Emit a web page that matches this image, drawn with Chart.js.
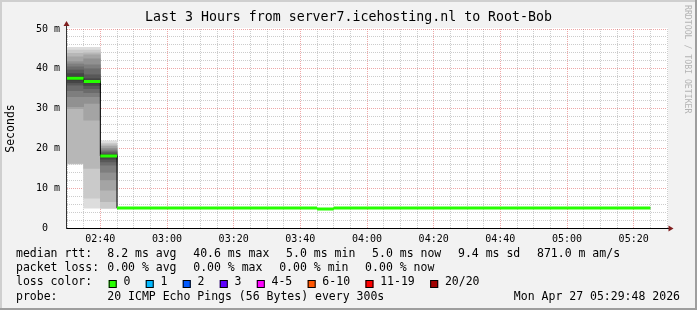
<!DOCTYPE html>
<html>
<head>
<meta charset="utf-8">
<title>Last 3 Hours from server7.icehosting.nl to Root-Bob</title>
<script src="https://cdn.jsdelivr.net/npm/chart.js@4.4.1/dist/chart.umd.min.js"></script>
<style>
  html, body { margin: 0; padding: 0; background: #f2f2f2; }
  #chart-box { width: 697px; height: 310px; }
</style>
</head>
<body>
<div id="chart-box"><canvas id="ping-chart" width="697" height="310"></canvas></div>
<script>
// start of each 5 minute step, in minutes after 02:30
const stepStarts = [0, 5, 10, 15, 20, 25, 30, 35, 40, 45, 50, 55, 60, 65, 70, 75, 80, 85,
  90, 95, 100, 105, 110, 115, 120, 125, 130, 135, 140, 145, 150, 155, 160, 165, 170];
const stepMinutes = 5;

// median rtt per step (ms)
const medianRtt = [37.6, 36.8, 18.1, 5.0, 5.0, 5.0, 5.0, 5.0, 5.0, 5.0, 5.0, 5.0, 5.0, 5.0, 5.0,
  4.8, 5.0, 5.0, 5.0, 5.0, 5.0, 5.0, 5.0, 5.0, 5.0, 5.0, 5.0, 5.0, 5.0, 5.0, 5.0, 5.0, 5.0, 5.0, 5.0];

// sorted 20 pings (ms) of the steps that show smoke
const smokePings = [
  [16.1, 16.1, 16.2, 30.0, 30.5, 33.0, 34.5, 35.9, 36.5, 37.2, 38.0, 38.8, 39.7, 40.5, 41.2, 41.8, 43.0, 43.9, 44.7, 45.4],
  [5.0, 7.5, 15.0, 27.1, 31.3, 33.0, 34.0, 35.0, 35.8, 36.5, 37.1, 37.5, 38.5, 40.0, 41.0, 42.5, 43.5, 44.0, 44.7, 45.4],
  [4.9, 5.0, 6.6, 9.5, 12.1, 14.0, 15.8, 16.6, 17.3, 17.9, 18.3, 18.5, 18.9, 19.2, 19.6, 20.0, 20.5, 20.9, 21.3, 21.9]
];

// axis labels
const xTickLabels = ['02:40', '03:00', '03:20', '03:40', '04:00', '04:20', '04:40', '05:00', '05:20'];
const yTickLabels = ['0', '10 m', '20 m', '30 m', '40 m', '50 m'];

// legend texts
const medianItems = ['8.2 ms avg', '40.6 ms max', '5.0 ms min', '5.0 ms now', '9.4 ms sd', '871.0 m am/s'];
const lossItems = ['0.00 % avg', '0.00 % max', '0.00 % min', '0.00 % now'];
const lossLabels = ['0', '1', '2', '3', '4-5', '6-10', '11-19', '20/20'];
const lossColors = ['#26ff00', '#00b8ff', '#0059ff', '#5e00ff', '#ff00ff', '#ff5500', '#ff0000', '#a10000'];
const probeText = '20 ICMP Echo Pings (56 Bytes) every 300s';
const stampText = 'Mon Apr 27 05:29:48 2026';

const MONO = '"DejaVu Sans Mono", monospace';
const GRID = 'rgba(143,143,143,0.45)';
const MGRID = 'rgba(222,79,79,0.5)';

// smoke bands: outer pair lightest, inner pair darkest
const datasets = [];
const half = 10;
for (let b = 1; b <= half; b++) {
  const g = Math.floor(190 / half * (half - b)) + 50;
  datasets.push({
    type: 'bar',
    data: smokePings.map((p, i) => ({ x: stepStarts[i] + stepMinutes / 2, y: [p[b - 1], p[19 - (b - 1)]] })),
    backgroundColor: 'rgb(' + g + ',' + g + ',' + g + ')',
    borderWidth: 0,
    barPercentage: 1,
    categoryPercentage: 1,
    grouped: false,
    order: 30 - b
  });
}

// thin black step line of the median
const stepLine = stepStarts.map((s, i) => ({ x: s, y: medianRtt[i] }));
stepLine.push({ x: stepStarts[stepStarts.length - 1] + stepMinutes, y: medianRtt[medianRtt.length - 1] });
datasets.push({
  type: 'line',
  data: stepLine,
  stepped: true,
  borderColor: '#000000',
  borderWidth: 1,
  pointRadius: 0,
  order: 1
});

// loss coloured median segments (all 0 loss)
const greenLine = [];
stepStarts.forEach((s, i) => {
  greenLine.push({ x: s, y: medianRtt[i] }, { x: s + stepMinutes, y: medianRtt[i] }, { x: s + stepMinutes, y: null });
});
datasets.push({
  type: 'line',
  data: greenLine,
  borderColor: lossColors[0],
  borderWidth: 3,
  borderCapStyle: 'butt',
  pointRadius: 0,
  spanGaps: false,
  order: 0
});

// frame, canvas, arrows, title and rrd legend
const rrdLook = {
  id: 'rrdLook',
  beforeDraw(chart) {
    const ctx = chart.ctx;
    const a = chart.chartArea;
    const w = chart.width, h = chart.height;
    ctx.save();
    ctx.fillStyle = '#f2f2f2';
    ctx.fillRect(0, 0, w, h);
    ctx.fillStyle = '#cfcfcf';
    ctx.fillRect(0, 0, w, 2);
    ctx.fillRect(0, 0, 2, h);
    ctx.fillStyle = '#9e9e9e';
    ctx.fillRect(0, h - 2, w, 2);
    ctx.fillRect(w - 2, 0, 2, h);
    ctx.fillStyle = '#ffffff';
    ctx.fillRect(a.left, a.top - 1, a.right - a.left + 1, a.bottom - a.top + 1);
    ctx.restore();
  },
  afterDraw(chart) {
    const ctx = chart.ctx;
    const a = chart.chartArea;
    ctx.save();

    // axes
    ctx.lineWidth = 1;
    ctx.strokeStyle = '#000000';
    ctx.beginPath();
    ctx.moveTo(a.left - 1, a.bottom + 0.5);
    ctx.lineTo(a.right + 3, a.bottom + 0.5);
    ctx.stroke();
    ctx.strokeStyle = '#333333';
    ctx.beginPath();
    ctx.moveTo(a.left - 0.5, a.bottom + 1);
    ctx.lineTo(a.left - 0.5, a.top - 4);
    ctx.stroke();

    // arrows
    ctx.fillStyle = '#801f1f';
    ctx.beginPath();
    ctx.moveTo(a.right + 1.5, a.bottom - 2.5);
    ctx.lineTo(a.right + 6.5, a.bottom + 0.5);
    ctx.lineTo(a.right + 1.5, a.bottom + 3.5);
    ctx.closePath();
    ctx.fill();
    ctx.beginPath();
    ctx.moveTo(a.left - 3.5, a.top - 3);
    ctx.lineTo(a.left - 0.5, a.top - 8);
    ctx.lineTo(a.left + 2.5, a.top - 3);
    ctx.closePath();
    ctx.fill();

    // title
    ctx.fillStyle = '#000000';
    ctx.font = '13.25px ' + MONO;
    ctx.textAlign = 'center';
    ctx.textBaseline = 'middle';
    ctx.fillText('Last 3 Hours from server7.icehosting.nl to Root-Bob', chart.width / 2, 18);

    // legend rows
    ctx.font = '11.5px ' + MONO;
    ctx.textAlign = 'left';
    const col = 107.3;
    const gap = 16.7;
    ctx.fillText('median rtt:', 16, 254.3);
    let x = col;
    medianItems.forEach(t => { ctx.fillText(t, x, 254.3); x += ctx.measureText(t).width + gap; });
    ctx.fillText('packet loss:', 16, 268.3);
    x = col;
    lossItems.forEach(t => { ctx.fillText(t, x, 268.3); x += ctx.measureText(t).width + gap; });
    ctx.fillText('loss color:', 16, 282.3);
    x = col + 1.4;
    lossLabels.forEach((t, i) => {
      ctx.fillStyle = lossColors[i];
      ctx.fillRect(x, 280, 8, 8);
      ctx.strokeStyle = '#000000';
      ctx.strokeRect(x + 0.5, 280.5, 7, 7);
      ctx.fillStyle = '#000000';
      ctx.fillText(t, x + 14.7, 282.3);
      x += 14.7 + ctx.measureText(t).width + 15.4;
    });
    ctx.fillText('probe:', 16, 296.7);
    ctx.fillText(probeText, col, 296.7);
    ctx.textAlign = 'right';
    ctx.fillText(stampText, 680, 296.7);

    // watermark
    ctx.translate(687, 5);
    ctx.rotate(Math.PI / 2);
    ctx.textAlign = 'left';
    ctx.textBaseline = 'middle';
    ctx.font = '8.2px ' + MONO;
    ctx.fillStyle = '#b4b4b4';
    ctx.fillText('RRDTOOL / TOBI OETIKER', 0, 0);
    ctx.restore();
  }
};

const majorX = v => (v - 10) % 20 === 0;
const majorY = v => v % 10 === 0;

const ctx = document.getElementById('ping-chart').getContext('2d');
const chart = new Chart(ctx, {
  type: 'line',
  data: { datasets: datasets },
  options: {
    responsive: false,
    animation: false,
    devicePixelRatio: 1,
    layout: { padding: { left: 0, right: 30, top: 29, bottom: 0 } },
    plugins: {
      legend: { display: false },
      tooltip: { enabled: false },
      title: { display: false }
    },
    scales: {
      x: {
        type: 'linear',
        min: 0,
        max: 180,
        offset: false,
        afterFit: scale => { scale.height = 82; },
        grid: {
          offset: false,
          drawTicks: false,
          color: c => majorX(c.tick.value) ? MGRID : GRID
        },
        border: { display: false, dash: [1, 1] },
        ticks: {
          stepSize: 5,
          autoSkip: false,
          maxRotation: 0,
          padding: 5,
          color: '#000000',
          font: { family: MONO, size: 10 },
          callback: v => majorX(v) ? xTickLabels[(v - 10) / 20] : ''
        }
      },
      y: {
        type: 'linear',
        min: 0,
        max: 50,
        afterFit: scale => { scale.width = 67; },
        grid: {
          drawTicks: false,
          color: c => majorY(c.tick.value) ? MGRID : GRID
        },
        border: { display: false, dash: [1, 1] },
        title: {
          display: true,
          text: 'Seconds',
          color: '#000000',
          font: { family: MONO, size: 11.5 },
          padding: { top: 4, bottom: 0 }
        },
        ticks: {
          stepSize: 2,
          autoSkip: false,
          padding: 7,
          color: '#000000',
          font: { family: MONO, size: 10 },
          callback: v => {
            if (!majorY(v)) return '';
            const t = yTickLabels[v / 10];
            return t.indexOf(' ') < 0 ? t + '  ' : t;
          }
        }
      }
    }
  },
  plugins: [rrdLook]
});
</script>
</body>
</html>
